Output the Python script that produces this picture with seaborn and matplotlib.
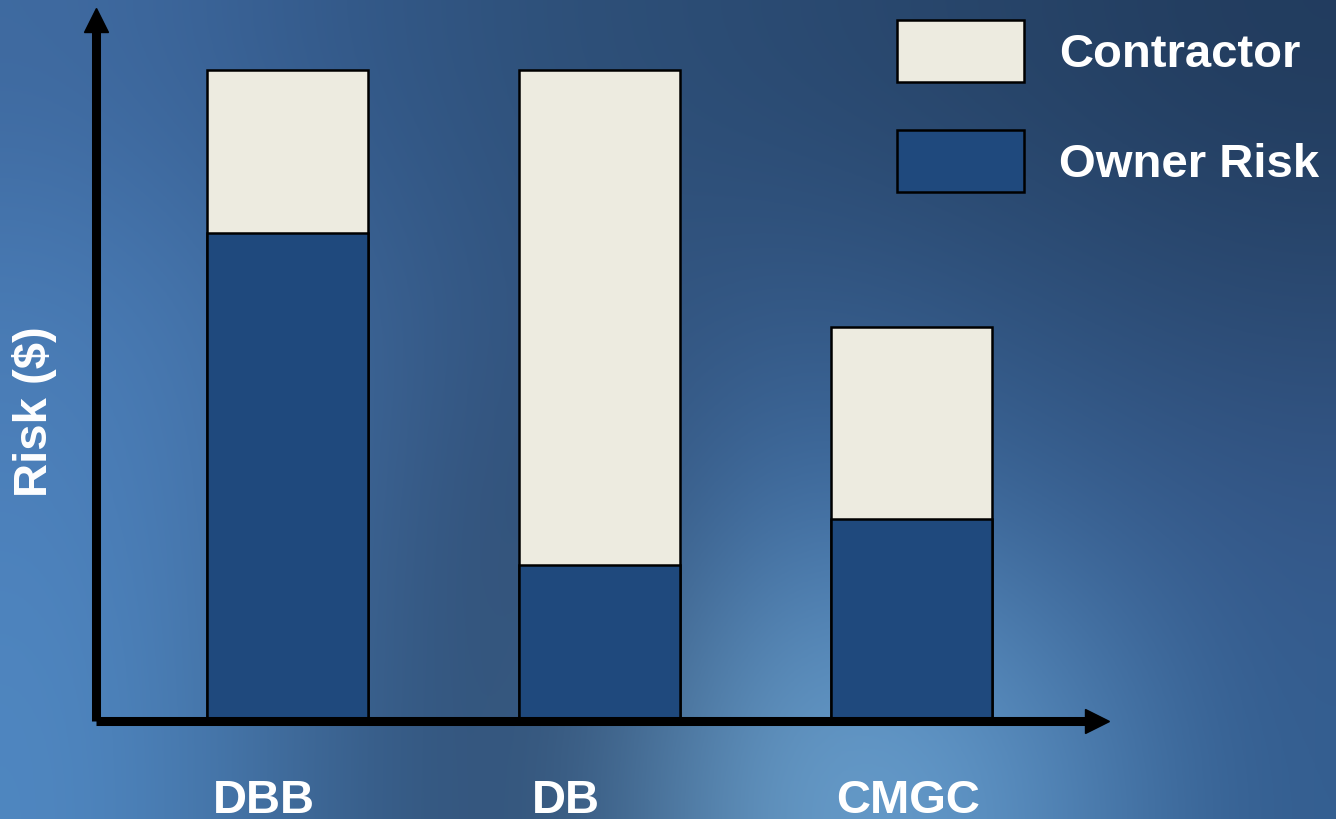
import numpy as np
import pandas as pd
import seaborn as sns
import matplotlib.pyplot as plt
from matplotlib.patches import Patch
from matplotlib.lines import Line2D
from matplotlib.transforms import ScaledTranslation

methods = ['DBB', 'DB', 'CMGC']
owner_risk = [75, 24, 31]
contractor_risk = [25, 76, 29.5]
legend_labels = ['Contractor', 'Owner Risk']

contractor_color = '#EDEBE0'
owner_color = '#1F497D'

plt.rcParams['font.family'] = ['Liberation Sans', 'DejaVu Sans']

df = pd.DataFrame({'method': methods, 'owner': owner_risk, 'contractor': contractor_risk})
df['total'] = df['owner'] + df['contractor']

fig = plt.figure(figsize=(13.36, 8.2), dpi=100)

# blue slide-style background
bg_colors = [
    ['#3f6aa0', '#33598a', '#2e5078', '#2a4a72', '#274468', '#223c5e'],
    ['#4a7db7', '#3d679a', '#30507a', '#355a88', '#30537f', '#2b4a72'],
    ['#4d82bd', '#3d6698', '#2c4668', '#4677ae', '#3a6597', '#35588a'],
    ['#5088c2', '#3a628f', '#2d4a6e', '#6ea4d0', '#5e94c6', '#335d8f'],
]
bg_rgb = np.array([[[int(c[i:i + 2], 16) / 255 for i in (1, 3, 5)] for c in row] for row in bg_colors])
bg = fig.add_axes([0, 0, 1, 1], zorder=0)
bg.imshow(bg_rgb, aspect='auto', interpolation='bicubic', extent=[0, 1, 0, 1])
bg.axis('off')

ax = fig.add_axes([96 / 1336, 98 / 820, 1001 / 1336, 705 / 820], zorder=1)
ax.patch.set_alpha(0)

sns.barplot(data=df, x='method', y='total', color=contractor_color, saturation=1,
            edgecolor='black', linewidth=1.8, width=0.516, ax=ax)
sns.barplot(data=df, x='method', y='owner', color=owner_color, saturation=1,
            edgecolor='black', linewidth=1.8, width=0.516, ax=ax)

ax.set_xlim(-0.615, 2.593)
ax.set_ylim(0, 108.3)
for s in ax.spines.values():
    s.set_visible(False)
ax.set_yticks([])
ax.set_xlabel('')

# axes drawn as arrows
ax.add_line(Line2D([0, 0], [0, 0.99], transform=ax.transAxes, color='black', lw=6.5,
                   clip_on=False, solid_capstyle='butt'))
ax.add_line(Line2D([0, 0.99], [0, 0], transform=ax.transAxes, color='black', lw=6.5,
                   clip_on=False, solid_capstyle='butt'))
ax.plot([0], [0.995], marker='^', markersize=17, color='black', transform=ax.transAxes, clip_on=False)
ax.plot([1], [0], marker='>', markersize=17, color='black', transform=ax.transAxes, clip_on=False)

ax.tick_params(axis='x', length=0, pad=41, labelsize=34, labelcolor='white')
label_shift = [-24, -34, -4]
for lab, dx in zip(ax.get_xticklabels(), label_shift):
    lab.set_fontweight('bold')
    lab.set_transform(lab.get_transform() + ScaledTranslation(dx / 100, 0, fig.dpi_scale_trans))

ax.set_ylabel('Risk ($)', fontsize=34, fontweight='bold', color='white', labelpad=28, y=0.44)

handles = [Patch(facecolor=contractor_color, edgecolor='black', linewidth=1.8, label=legend_labels[0]),
           Patch(facecolor=owner_color, edgecolor='black', linewidth=1.8, label=legend_labels[1])]
fig.legend(handles=handles, loc='upper left', bbox_to_anchor=(897 / 1336, 1 - 21 / 820),
           frameon=False, borderpad=0, borderaxespad=0, handlelength=2.69, handleheight=1.64,
           labelspacing=1.02, handletextpad=0.75, labelcolor='white',
           prop={'size': 34, 'weight': 'bold'})

fig.savefig('out.png', dpi=100)
